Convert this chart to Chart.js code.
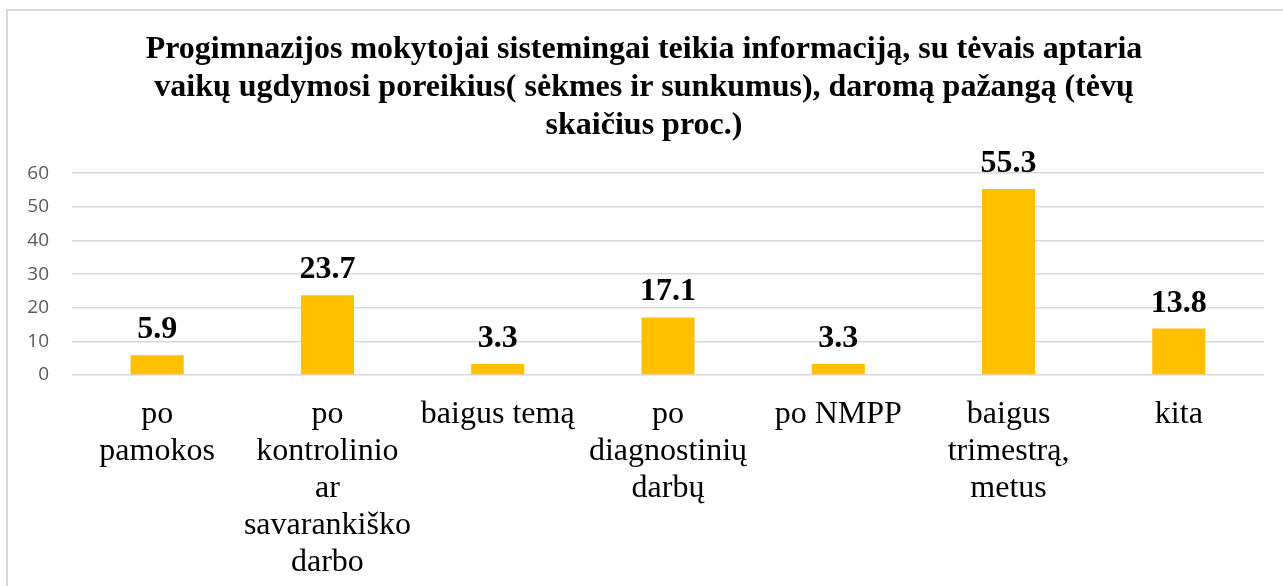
<!DOCTYPE html>
<html>
<head>
<meta charset="utf-8">
<script src="https://cdn.jsdelivr.net/npm/chart.js@4"></script>
<style>
  html, body { margin: 0; padding: 0; background: #fff; }
  #wrap { position: relative; width: 1283px; height: 586px; overflow: hidden; }
  #frame {
    position: absolute; left: 6px; top: 9px; width: 1300px; height: 600px;
    border-left: 2px solid #d9d9d9; border-top: 2px solid #d9d9d9;
    pointer-events: none;
  }
</style>
</head>
<body>
<div id="wrap">
  <canvas id="chart" width="1283" height="586"></canvas>
  <div id="frame"></div>
</div>
<script>
const titleLines = [
  "Progimnazijos mokytojai sistemingai teikia informaciją, su tėvais aptaria",
  "vaikų ugdymosi poreikius( sėkmes ir sunkumus), daromą pažangą (tėvų",
  "skaičius proc.)"
];

const categories = [
  ["po", "pamokos"],
  ["po", "kontrolinio", "ar", "savarankiško", "darbo"],
  ["baigus temą"],
  ["po", "diagnostinių", "darbų"],
  ["po NMPP"],
  ["baigus", "trimestrą,", "metus"],
  ["kita"]
];

const values = [5.9, 23.7, 3.3, 17.1, 3.3, 55.3, 13.8];

const yTicks = [0, 10, 20, 30, 40, 50, 60];

// bold numbers above each bar
const valueLabels = {
  id: "valueLabels",
  afterDatasetsDraw(chart) {
    const ctx = chart.ctx;
    const meta = chart.getDatasetMeta(0);
    ctx.save();
    ctx.font = "bold 32px 'Liberation Serif'";
    ctx.fillStyle = "#000";
    ctx.textAlign = "center";
    ctx.textBaseline = "alphabetic";
    meta.data.forEach((bar, i) => {
      ctx.fillText(values[i].toFixed(1), bar.x, bar.y - 17);
    });
    ctx.restore();
  }
};

new Chart(document.getElementById("chart"), {
  type: "bar",
  data: {
    labels: categories,
    datasets: [{
      data: values,
      backgroundColor: "#FFC000",
      borderWidth: 0,
      categoryPercentage: 0.8,
      barPercentage: 0.39
    }]
  },
  options: {
    responsive: false,
    animation: false,
    layout: { padding: { left: 24, right: 19, top: 0, bottom: 0 } },
    plugins: {
      legend: { display: false },
      tooltip: { enabled: false },
      title: {
        display: true,
        text: titleLines,
        color: "#000",
        font: { family: "'Liberation Serif'", size: 32, weight: "bold", lineHeight: 1.19 },
        padding: { top: 31, bottom: 28 }
      }
    },
    scales: {
      x: {
        grid: { display: false, drawTicks: false },
        border: { display: false },
        ticks: {
          color: "#000",
          font: { family: "'Liberation Serif'", size: 32, lineHeight: 1.156 },
          padding: 21,
          maxRotation: 0,
          minRotation: 0,
          autoSkip: false
        },
        afterFit(scale) { scale.height = 211; }
      },
      y: {
        min: 0,
        max: 60,
        grid: { color: "#d9d9d9", lineWidth: 1.5, drawTicks: false },
        border: { display: false },
        afterBuildTicks(scale) { scale.ticks = yTicks.map(v => ({ value: v })); },
        ticks: {
          color: "#595959",
          font: { family: "'Open Sans'", size: 19 },
          padding: 23
        },
        afterFit(scale) { scale.width = 48; }
      }
    }
  },
  plugins: [valueLabels]
});
</script>
</body>
</html>
